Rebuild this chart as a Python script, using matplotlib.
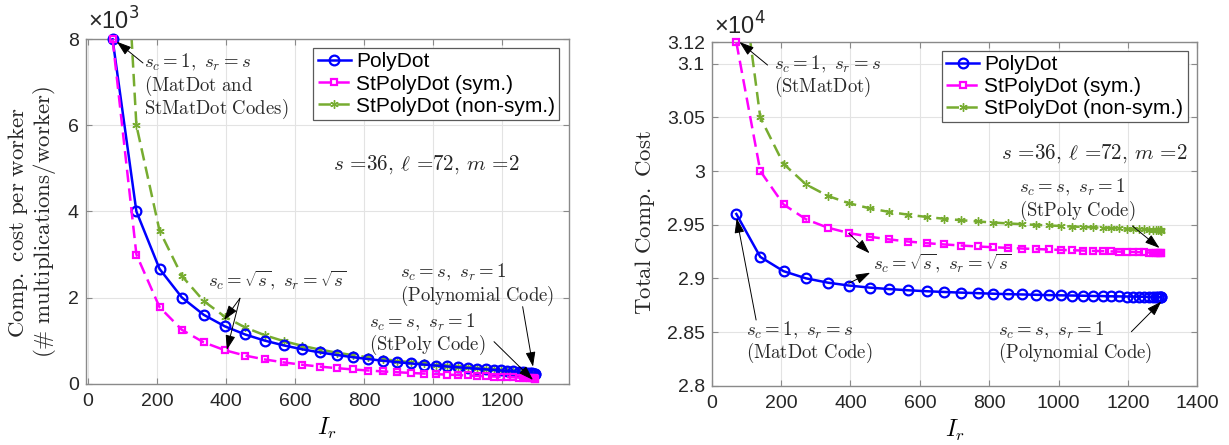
import matplotlib
matplotlib.use("Agg")
import matplotlib.pyplot as plt
from matplotlib.ticker import FixedLocator, FixedFormatter

# ---------------- data ----------------
Ir = [71, 140, 207, 272, 335, 396, 455, 512, 567, 620, 671, 720, 767, 812, 855, 896,
      935, 972, 1007, 1040, 1071, 1100, 1127, 1152, 1175, 1196, 1215, 1232, 1247,
      1260, 1271, 1280, 1287, 1292, 1295, 1296]

worker_polydot = [8000, 4000, 2667, 2000, 1600, 1333, 1143, 1000, 889, 800, 727, 667,
                  615, 571, 533, 500, 471, 444, 421, 400, 381, 364, 348, 333, 320,
                  308, 296, 286, 276, 267, 258, 250, 242, 235, 229, 222]
worker_sym = [8000, 3000, 1778, 1250, 960, 778, 653, 563, 494, 440, 397, 361, 331, 306,
              284, 266, 249, 235, 222, 210, 200, 190, 181, 174, 166, 160, 154, 148,
              143, 138, 133, 129, 125, 121, 118, 114]
worker_nonsym = [16000, 6000, 3556, 2500, 1920, 1556, 1306, 1125, 988, 880, 793, 722,
                 663, 612, 569, 531, 498, 469, 443, 420, 399, 380, 363, 347, 333, 320,
                 307, 296, 285, 276, 266, 258, 250, 242, 235, 228]

total_polydot = [29600, 29200, 29067, 29000, 28960, 28933, 28914, 28900, 28889, 28880,
                 28873, 28867, 28862, 28857, 28853, 28850, 28847, 28844, 28842, 28840,
                 28838, 28836, 28835, 28833, 28832, 28831, 28830, 28829, 28828, 28827,
                 28826, 28825, 28824, 28824, 28823, 28822]
total_sym = [31200, 30000, 29689, 29550, 29472, 29422, 29388, 29363, 29343, 29328,
             29316, 29306, 29297, 29290, 29284, 29278, 29273, 29269, 29265, 29262,
             29259, 29256, 29254, 29251, 29249, 29247, 29246, 29244, 29242, 29241,
             29240, 29238, 29237, 29236, 29235, 29234]
total_nonsym = [32200, 30500, 30067, 29875, 29768, 29700, 29653, 29619, 29593, 29572,
                29555, 29542, 29530, 29520, 29512, 29505, 29498, 29493, 29488, 29483,
                29479, 29475, 29472, 29469, 29466, 29463, 29461, 29459, 29457, 29455,
                29453, 29451, 29450, 29448, 29447, 29445]

series_labels = ["PolyDot", "StPolyDot (sym.)", "StPolyDot (non-sym.)"]
left_xticks = [0, 200, 400, 600, 800, 1000, 1200]
left_yticks = [0, 2000, 4000, 6000, 8000]
left_yticklabels = ["0", "2", "4", "6", "8"]
right_xticks = [0, 200, 400, 600, 800, 1000, 1200, 1400]
right_yticks = [28000, 28500, 29000, 29500, 30000, 30500, 31000, 31200]
right_yticklabels = ["2.8", "2.85", "2.9", "2.95", "3", "3.05", "3.1", "3.12"]

# ---------------- style ----------------
plt.rcParams["font.family"] = ["Liberation Sans", "DejaVu Sans"]
plt.rcParams["mathtext.fontset"] = "cm"
plt.rcParams["axes.unicode_minus"] = False

BLUE = "#0000FF"
MAG = "#FF00FF"
GREEN = "#77AC30"
TICKC = "#262626"
SPINE = "#8a8a8a"
TXT = "#2a2a2a"

fig = plt.figure(figsize=(12.29, 4.45), dpi=100)
axL = fig.add_axes([0.0697, 0.1378, 0.3932, 0.7739])
axR = fig.add_axes([0.5791, 0.1333, 0.3951, 0.7717])

asterisk = (6, 2, 0)

def style_axes(ax):
    for sp in ax.spines.values():
        sp.set_color(SPINE)
        sp.set_linewidth(1.0)
    ax.tick_params(direction="in", length=4, width=0.8, color=SPINE,
                   top=True, right=True, labelsize=14, labelcolor=TICKC)
    ax.tick_params(axis="x", pad=7)
    ax.tick_params(axis="y", pad=5)
    ax.grid(True, color="#e3e3e3", linewidth=0.8)
    ax.set_axisbelow(True)

def plot_series(ax, y1, y2, y3):
    l1, = ax.plot(Ir, y1, "-", color=BLUE, lw=1.8, marker="o", ms=7, mfc="none",
                  mew=1.6, clip_on=False, zorder=3)
    l2, = ax.plot(Ir, y2, "--", color=MAG, lw=1.8, marker="s", ms=5, mfc="none",
                  mew=1.6, clip_on=False, zorder=4, dashes=(5, 2.5))
    l3, = ax.plot(Ir, y3, "--", color=GREEN, lw=1.8, marker=asterisk, ms=6,
                  mew=1.0, zorder=2, dashes=(5, 2.5))
    return [l1, l2, l3]

def legend(ax, lines, anchor):
    leg = ax.legend(lines, series_labels, loc="upper right", bbox_to_anchor=anchor,
                    fontsize=15, frameon=True, fancybox=False, framealpha=1,
                    edgecolor="#5a5a5a", borderpad=0.2, labelspacing=0.15,
                    handlelength=1.6, handletextpad=0.25, borderaxespad=0)
    leg.get_frame().set_linewidth(0.9)
    leg.set_zorder(10)

arrow = dict(arrowstyle="-|>,head_length=0.9,head_width=0.3", color="black",
             lw=0.7, shrinkA=0, shrinkB=0)
ANN = 13.5
PARAMS = r"$s$ =36, $\ell$ =72, $m$ =2"

def arr(ax, tail, head):
    ax.annotate("", xy=head, xytext=tail, arrowprops=arrow, annotation_clip=False,
                zorder=6)

# ---------------- left ----------------
style_axes(axL)
linesL = plot_series(axL, worker_polydot, worker_sym, worker_nonsym)
axL.set_xlim(-7, 1393)
axL.set_ylim(0, 8000)
axL.xaxis.set_major_locator(FixedLocator(left_xticks))
axL.yaxis.set_major_locator(FixedLocator(left_yticks))
axL.yaxis.set_major_formatter(FixedFormatter(left_yticklabels))
legend(axL, linesL, (0.980, 0.974))
axL.text(0.004, 1.027, "×10$^{3}$", transform=axL.transAxes, fontsize=17,
         color=TICKC, ha="left", va="baseline", math_fontfamily="dejavusans")
axL.set_xlabel(r"$I_r$", fontsize=17, labelpad=4)
fig.text(0.026, 0.50,
         r"$\mathrm{Comp.\ cost\ per\ worker}$" + "\n" +
         r"$\mathrm{(\#\ multiplications/worker)}$",
         rotation=90, ha="center", va="center", fontsize=16.5, color=TICKC,
         linespacing=1.05)

axL.text(709, 5080, PARAMS, fontsize=15.2, ha="left", va="center", color=TICKC,
         family="cmr10")
axL.text(162, 6904, r"$s_c=1,\ s_r=s$" + "\n" + r"$\mathrm{(MatDot\ and}$" + "\n" +
         r"$\mathrm{StMatDot\ Codes)}$", fontsize=ANN, ha="left", va="center",
         color=TXT, linespacing=1.0)
arr(axL, (159, 7450), (83, 7945))
axL.text(347, 2409, r"$s_c=\sqrt{s},\ s_r=\sqrt{s}$", fontsize=ANN, ha="left",
         va="center", color=TXT)
arr(axL, (440, 1984), (394, 1480))
arr(axL, (440, 1984), (402, 783))
axL.text(904, 2293, r"$s_c=s,\ s_r=1$" + "\n" + r"$\mathrm{(Polynomial\ Code)}$",
         fontsize=ANN, ha="left", va="center", color=TXT, linespacing=1.0)
arr(axL, (1259, 1789), (1289, 395))
axL.text(814, 1143, r"$s_c=s,\ s_r=1$" + "\n" + r"$\mathrm{(StPoly\ Code)}$",
         fontsize=ANN, ha="left", va="center", color=TXT, linespacing=1.0)
arr(axL, (1176, 976), (1289, 86))

# ---------------- right ----------------
style_axes(axR)
linesR = plot_series(axR, total_polydot, total_sym, total_nonsym)
axR.set_xlim(0, 1400)
axR.set_ylim(28000, 31200)
axR.xaxis.set_major_locator(FixedLocator(right_xticks))
axR.yaxis.set_major_locator(FixedLocator(right_yticks))
axR.yaxis.set_major_formatter(FixedFormatter(right_yticklabels))
legend(axR, linesR, (0.980, 0.9755))
axR.text(0.004, 1.021, "×10$^{4}$", transform=axR.transAxes, fontsize=17,
         color=TICKC, ha="left", va="baseline", math_fontfamily="dejavusans")
axR.set_xlabel(r"$I_r$", fontsize=17, labelpad=4)
fig.text(0.525, 0.50, r"$\mathrm{Total\ Comp.\ Cost}$", rotation=90,
         ha="center", va="center", fontsize=16.5, color=TICKC)

axR.text(835, 30159, PARAMS, fontsize=15.2, ha="left", va="center", color=TICKC,
         family="cmr10")
axR.text(181, 30881, r"$s_c=1,\ s_r=s$" + "\n" + r"$\mathrm{(StMatDot)}$",
         fontsize=ANN, ha="left", va="center", color=TXT, linespacing=1.0)
arr(axR, (161, 30988), (80, 31203))
axR.text(466, 29141, r"$s_c=\sqrt{s},\ s_r=\sqrt{s}$", fontsize=ANN, ha="left",
         va="center", color=TXT)
arr(axR, (395, 29420), (455, 29234))
arr(axR, (395, 28954), (457, 29053))
axR.text(99, 28405, r"$s_c=1,\ s_r=s$" + "\n" + r"$\mathrm{(MatDot\ Code)}$",
         fontsize=ANN, ha="left", va="center", color=TXT, linespacing=1.0)
arr(axR, (128, 28612), (72, 29560))
axR.text(885, 29730, r"$s_c=s,\ s_r=1$" + "\n" + r"$\mathrm{(StPoly\ Code)}$",
         fontsize=ANN, ha="left", va="center", color=TXT, linespacing=1.0)
arr(axR, (1213, 29488), (1291, 29283))
axR.text(824, 28403, r"$s_c=s,\ s_r=1$" + "\n" + r"$\mathrm{(Polynomial\ Code)}$",
         fontsize=ANN, ha="left", va="center", color=TXT, linespacing=1.0)
arr(axR, (1210, 28503), (1296, 28783))

fig.savefig("out.png", dpi=100)
